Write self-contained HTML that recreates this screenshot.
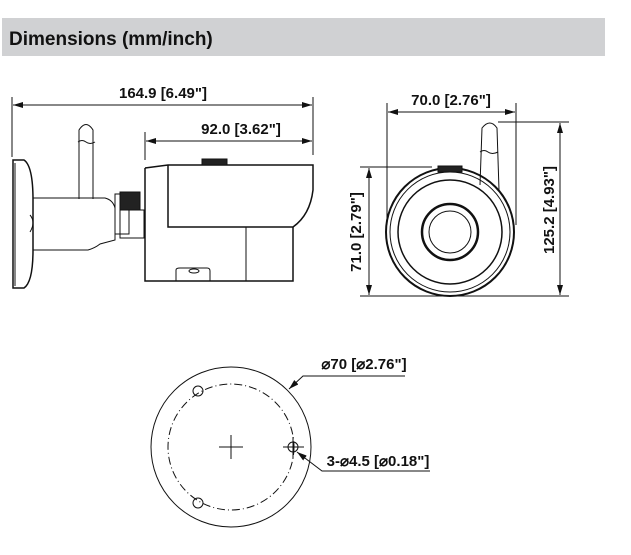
<!DOCTYPE html>
<html><head><style>
html,body{margin:0;padding:0;background:#fff;width:631px;height:555px;overflow:hidden}
svg{display:block}
text{font-family:"Liberation Sans",sans-serif;font-weight:bold;fill:#111}
</style></head><body>
<svg width="631" height="555" viewBox="0 0 631 555" xmlns="http://www.w3.org/2000/svg">
<defs>
<marker id="a" viewBox="0 0 10 6" refX="10" refY="3" markerWidth="10" markerHeight="6" orient="auto-start-reverse" markerUnits="userSpaceOnUse"><path d="M0,0L10,3L0,6z" fill="#111"/></marker>
</defs>
<rect x="2" y="18" width="603" height="38" fill="#d0d1d3"/>
<text x="9" y="45" font-size="19" style="font-weight:bold">Dimensions (mm/inch)</text>

<g stroke="#111" stroke-width="1" fill="none">
<line x1="12" y1="97" x2="12" y2="157"/>
<line x1="313" y1="97" x2="313" y2="155"/>
<line x1="13" y1="105" x2="312" y2="105" marker-start="url(#a)" marker-end="url(#a)"/>
<line x1="145" y1="132" x2="145" y2="160"/>
<line x1="146" y1="141" x2="312" y2="141" marker-start="url(#a)" marker-end="url(#a)"/>
<!-- mount -->
<path d="M13,160 L24,160 Q33,166 33,200 L33,250 Q33,282 24,288 L13,288 Z" stroke-width="1.5"/>
<line x1="15" y1="163" x2="15" y2="286"/>
<path d="M33,198 L105,198 Q113,200 115,208 L115,240 L100,244 Q95,248 88,250 L33,250"/>
<path d="M30,215 Q36,222 30,232"/>
<path d="M79,199 L79,130 Q86,119 93,130 L93,199"/>
<path d="M78,142 Q82,139 86,142 Q90,145 95,142"/>
<rect x="115" y="194" width="14" height="40"/>
<rect x="120" y="210" width="24" height="28"/>
<rect x="120" y="192" width="20" height="18" fill="#222"/>
<path d="M145,168 L168,165 L313,165 L313,190 Q310,215 293,227 L168,227 Q168,210 168,165" stroke-width="1.5"/>
<path d="M145,168 L145,281 L293,281 L293,227" stroke-width="1.5"/>
<line x1="246" y1="227" x2="246" y2="281"/>
<rect x="202" y="159" width="25" height="6" fill="#222"/>
<path d="M176,281 L176,270 Q176,268 180,268 L207,268 Q210,268 210,271 L210,281"/>
<ellipse cx="194" cy="271" rx="5" ry="2"/>

<line x1="387" y1="103" x2="387" y2="225"/>
<line x1="516" y1="103" x2="516" y2="225"/>
<line x1="388" y1="112" x2="515" y2="112" marker-start="url(#a)" marker-end="url(#a)"/>
<line x1="498" y1="122" x2="569" y2="122"/>
<line x1="360" y1="296" x2="569" y2="296"/>
<line x1="560" y1="123" x2="560" y2="295" marker-start="url(#a)" marker-end="url(#a)"/>
<line x1="360" y1="167" x2="432" y2="167"/>
<line x1="369" y1="168" x2="369" y2="295" marker-start="url(#a)" marker-end="url(#a)"/>
<path d="M480,185 L482,128 Q490,118 497,128 L499,190"/>
<path d="M480,152 Q484,149 488,152 Q492,155 498,152"/>
<circle cx="450" cy="232" r="64" stroke-width="2"/>
<circle cx="450" cy="232" r="60"/>
<circle cx="450" cy="232" r="52" stroke-width="1.5"/>
<circle cx="450" cy="232" r="28" stroke-width="2.5"/>
<circle cx="450" cy="232" r="21"/>
<rect x="438" y="166" width="24" height="6" fill="#222"/>

<circle cx="231" cy="447" r="80"/>
<circle cx="231" cy="447" r="63" stroke-dasharray="8,3,1,3"/>
<circle cx="198" cy="391" r="5"/>
<circle cx="293" cy="447" r="5"/>
<circle cx="198" cy="503" r="5"/>
<line x1="219" y1="447" x2="243" y2="447"/>
<line x1="231" y1="435" x2="231" y2="459"/>
<line x1="283" y1="447" x2="304" y2="447"/>
<line x1="293" y1="437" x2="293" y2="458"/>
<polyline points="405,376 303,376 289,389" marker-end="url(#a)"/>
<polyline points="430,471 322,471 297,452" marker-end="url(#a)"/>
</g>

<text x="163" y="98" font-size="15" text-anchor="middle">164.9 [6.49"]</text>
<text x="241" y="134" font-size="15" text-anchor="middle">92.0 [3.62"]</text>
<text x="451" y="105" font-size="15" text-anchor="middle">70.0 [2.76"]</text>
<text transform="translate(554,210) rotate(-90)" font-size="15" text-anchor="middle">125.2 [4.93"]</text>
<text transform="translate(361,232) rotate(-90)" font-size="15" text-anchor="middle">71.0 [2.79"]</text>
<text x="364" y="369" font-size="15" text-anchor="middle">⌀70 [⌀2.76"]</text>
<text x="378" y="466" font-size="15" text-anchor="middle">3-⌀4.5 [⌀0.18"]</text>
</svg>
</body></html>
